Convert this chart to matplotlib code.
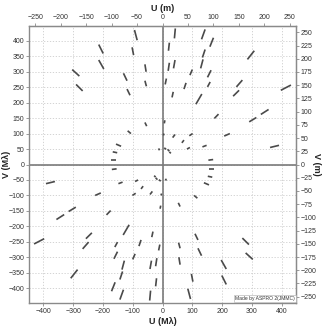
import numpy as np
import matplotlib.pyplot as plt
from matplotlib.collections import LineCollection

plt.rcParams['font.family'] = ['Liberation Sans', 'DejaVu Sans']

# UV tracks (Mlambda), one half-plane; the conjugate points (-u,-v) are drawn too
u1 = [-94, -102, -214, -214, -303, -290, -131, -119, -59, -59, -59, -117, -156, -167, -173,
      43, 143, 23, 171, 143, 308, 23, 42, 136, 100, 163, 13, 79, 160, 268, 257, 431, 36, 132,
      188, 315, 356, 8, 226, 101, 42, 72, 92, 148, 391, 170, 5, -13, 6, 17, 23]
v1 = [435, 379, 388, 338, 307, 259, 295, 244, 324, 271, 136, 109, 66, 41, 16,
      440, 437, 394, 410, 372, 368, 329, 338, 340, 307, 305, 278, 264, 267, 273, 240, 257, 235, 228,
      163, 152, 178, 143, 100, 100, 97, 79, 55, 62, 62, 16, 100, 52, 54, 49, 41]
u2 = [-85, -97, -199, -197, -279, -268, -119, -109, -55, -54, -53, -106, -139, -152, -156,
      40, 131, 20, 159, 134, 285, 19, 37, 128, 92, 151, 9, 72, 151, 248, 237, 397, 32, 112,
      174, 291, 330, 6, 207, 90, 34, 65, 82, 134, 361, 154, 3, -10, 12, 23, 28]
v2 = [402, 354, 359, 309, 286, 238, 271, 224, 300, 253, 124, 100, 59, 38, 16,
      408, 405, 368, 381, 346, 340, 303, 311, 311, 289, 282, 259, 244, 251, 251, 221, 240, 217, 195,
      149, 138, 162, 133, 92, 93, 87, 70, 50, 57, 55, 14, 94, 46, 49, 43, 36]

K = 1.71  # Mlambda per metre
lim = 448

fig = plt.figure(figsize=(3.27, 3.27), dpi=100)
ax = fig.add_axes([29/327, 1-303/327, 267/327, 277/327])

segs = []
for a, b, c, d in zip(u1, v1, u2, v2):
    segs.append([(a, b), (c, d)])
    segs.append([(-a, -b), (-c, -d)])
ax.add_collection(LineCollection(segs, colors='#4a4a4a', linewidths=1.2, capstyle='butt', zorder=3))

ax.axhline(0, color='#7a7a7a', lw=1.2, zorder=2)
ax.axvline(0, color='#7a7a7a', lw=1.2, zorder=2)

ax.set_xlim(-lim, lim)
ax.set_ylim(-lim, lim)
ax.set_xticks(np.arange(-400, 401, 100))
ax.set_yticks(np.arange(-400, 401, 50))
ax.grid(True, color='#cccccc', lw=0.6, ls=(0, (1.5, 2)))
ax.set_axisbelow(True)

for s in ax.spines.values():
    s.set_color('#8a8a8a')
    s.set_linewidth(1.0)

tk = dict(labelsize=5, length=2, width=0.6, color='#8a8a8a', labelcolor='#333333', pad=1.5)
lab = dict(fontsize=6.5, fontweight='bold', color='#222222')
ax.tick_params(**tk)
ax.set_xlabel('U (Mλ)', **lab)
ax.set_ylabel('V (Mλ)', **lab)
ax.xaxis.set_label_coords(0.5, -0.05)
ax.yaxis.set_label_coords(-0.067, 0.5)

top = ax.secondary_xaxis('top', functions=(lambda x: x / K, lambda x: x * K))
top.set_xticks(np.arange(-250, 251, 50))
top.tick_params(**tk)
top.set_xlabel('U (m)', **lab)
top.xaxis.set_label_coords(0.5, 1.054, transform=ax.transAxes)
top.spines['top'].set_color('#8a8a8a')

right = ax.secondary_yaxis('right', functions=(lambda x: x / K, lambda x: x * K))
right.set_yticks(np.arange(-250, 251, 25))
right.tick_params(**tk)
right.set_ylabel('V (m)', rotation=270, va='center', **lab)
right.yaxis.set_label_coords(1.075, 0.5, transform=ax.transAxes)
right.spines['right'].set_color('#8a8a8a')

ax.text(0.995, 0.008, 'Made by ASPRO 2(JMMC)', transform=ax.transAxes, fontsize=3.6,
        ha='right', va='bottom', color='#333333',
        bbox=dict(facecolor='white', edgecolor='#aaaaaa', lw=0.4, pad=0.8))

fig.savefig('out.png', dpi=100)
